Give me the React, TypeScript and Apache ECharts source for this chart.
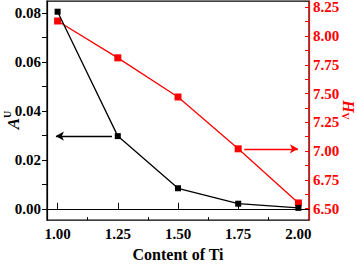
import React, { useEffect, useRef } from "react";
import * as echarts from "echarts";

const contentTi = [1.0, 1.25, 1.5, 1.75, 2.0];
const auValues = [0.0805, 0.0297, 0.0084, 0.0021, 0.0004];
const hvValues = [8.13, 7.81, 7.47, 7.02, 6.55];
const xTickLabels = [1.0, 1.25, 1.5, 1.75, 2.0];
const xMinorTicks = [1.125, 1.375, 1.625, 1.875];
const leftTickLabels = [0, 0.02, 0.04, 0.06, 0.08];
const leftTicks = [0, 0.01, 0.02, 0.03, 0.04, 0.05, 0.06, 0.07, 0.08];
const rightTickLabels = [6.5, 6.75, 7.0, 7.25, 7.5, 7.75, 8.0, 8.25];
const rightTicks = [6.5, 6.625, 6.75, 6.875, 7.0, 7.125, 7.25, 7.375, 7.5, 7.625, 7.75, 7.875, 8.0, 8.125, 8.25];
const blackArrow = [[1.226, 0.0297], [0.993, 0.0297]];
const redArrow = [[1.775, 7.02], [1.998, 7.02]];

const FONT = "Liberation Serif";

export default function App() {
  const ref = useRef<HTMLDivElement>(null);
  useEffect(() => {
    if (!ref.current) return;
    const chart = echarts.init(ref.current, null, { renderer: "svg" });
    const labelStyle = { fontFamily: FONT, fontWeight: "bold" as const, fontSize: 15 };
    chart.setOption({
      animation: false,
      grid: { left: 47, right: 48, top: 1, bottom: 35, show: true, borderColor: "#000", borderWidth: 1.2 },
      graphic: [
        {
          type: "text",
          x: 12,
          y: 120,
          rotation: Math.PI / 2,
          style: {
            text: "{i|A}{s|U}",
            align: "center",
            verticalAlign: "middle",
            rich: {
              i: { fontFamily: FONT, fontStyle: "italic", fontWeight: "bold", fontSize: 17, fill: "#000", lineHeight: 20, verticalAlign: "bottom" },
              s: { fontFamily: FONT, fontWeight: "bold", fontSize: 10, fill: "#000", lineHeight: 20, verticalAlign: "top" },
            },
          },
        },
        {
          type: "text",
          x: 348,
          y: 110,
          rotation: -Math.PI / 2,
          style: {
            text: "{i|H}{s|V}",
            align: "center",
            verticalAlign: "middle",
            rich: {
              i: { fontFamily: FONT, fontStyle: "italic", fontWeight: "bold", fontSize: 16, fill: "#ff0000", lineHeight: 16, verticalAlign: "top" },
              s: { fontFamily: FONT, fontWeight: "bold", fontSize: 10, fill: "#ff0000", lineHeight: 16, verticalAlign: "bottom" },
            },
          },
        },
      ],
      xAxis: [
        {
          type: "value",
          min: 0.956,
          max: 2.044,
          name: "Content of Ti",
          nameLocation: "middle",
          nameGap: 24,
          nameTextStyle: { fontFamily: FONT, fontWeight: "bold", fontSize: 16, color: "#000" },
          axisLine: { show: true, lineStyle: { color: "#000", width: 1.2 } },
          axisTick: { show: true, inside: true, length: 6, customValues: xTickLabels, lineStyle: { color: "#000" } },
          axisLabel: { ...labelStyle, color: "#000", margin: 6, customValues: xTickLabels, formatter: (v: number) => v.toFixed(2) },
          splitLine: { show: false },
        },
        {
          type: "value",
          min: 0.956,
          max: 2.044,
          position: "bottom",
          axisLine: { show: false },
          axisTick: { show: true, inside: true, length: 3, customValues: xMinorTicks, lineStyle: { color: "#000" } },
          axisLabel: { show: false },
          splitLine: { show: false },
        },
      ],
      yAxis: [
        {
          type: "value",
          min: -0.0046,
          max: 0.0848,
          position: "left",
          axisLine: { show: true, lineStyle: { color: "#000", width: 1.2 } },
          axisTick: { show: true, inside: false, length: 5, customValues: leftTicks, lineStyle: { color: "#000" } },
          axisLabel: { ...labelStyle, color: "#000", margin: 6, customValues: leftTickLabels, formatter: (v: number) => v.toFixed(2) },
          splitLine: { show: false },
        },
        {
          type: "value",
          min: 6.401,
          max: 8.302,
          position: "right",
          axisLine: { show: true, lineStyle: { color: "#ff0000", width: 1.2 } },
          axisTick: { show: true, inside: true, length: 4, customValues: rightTicks, lineStyle: { color: "#ff0000" } },
          axisLabel: { ...labelStyle, color: "#ff0000", margin: 4, customValues: rightTickLabels, formatter: (v: number) => v.toFixed(2) },
          splitLine: { show: false },
        },
      ],
      series: [
        {
          type: "line",
          xAxisIndex: 0,
          yAxisIndex: 1,
          data: contentTi.map((x, i) => [x, hvValues[i]]),
          symbol: "rect",
          symbolSize: 7,
          itemStyle: { color: "#ff0000" },
          lineStyle: { color: "#ff0000", width: 1.3 },
          markLine: {
            silent: true,
            symbol: ["none", "arrow"],
            symbolSize: [7, 8],
            label: { show: false },
            lineStyle: { color: "#ff0000", width: 1.3, type: "solid" },
            data: [[{ coord: redArrow[0] }, { coord: redArrow[1] }]],
          },
          z: 2,
        },
        {
          type: "line",
          xAxisIndex: 0,
          yAxisIndex: 0,
          data: contentTi.map((x, i) => [x, auValues[i]]),
          symbol: "rect",
          symbolSize: 6,
          itemStyle: { color: "#000" },
          lineStyle: { color: "#000", width: 1.3 },
          markLine: {
            silent: true,
            symbol: ["none", "arrow"],
            symbolSize: [7, 8],
            label: { show: false },
            lineStyle: { color: "#000", width: 1.3, type: "solid" },
            data: [[{ coord: blackArrow[0] }, { coord: blackArrow[1] }]],
          },
          z: 3,
        },
      ],
    });
    return () => chart.dispose();
  }, []);
  return (
    <div
      ref={ref}
      style={{ position: "fixed", left: 0, top: 0, width: 357, height: 267, background: "#fff" }}
    />
  );
}
